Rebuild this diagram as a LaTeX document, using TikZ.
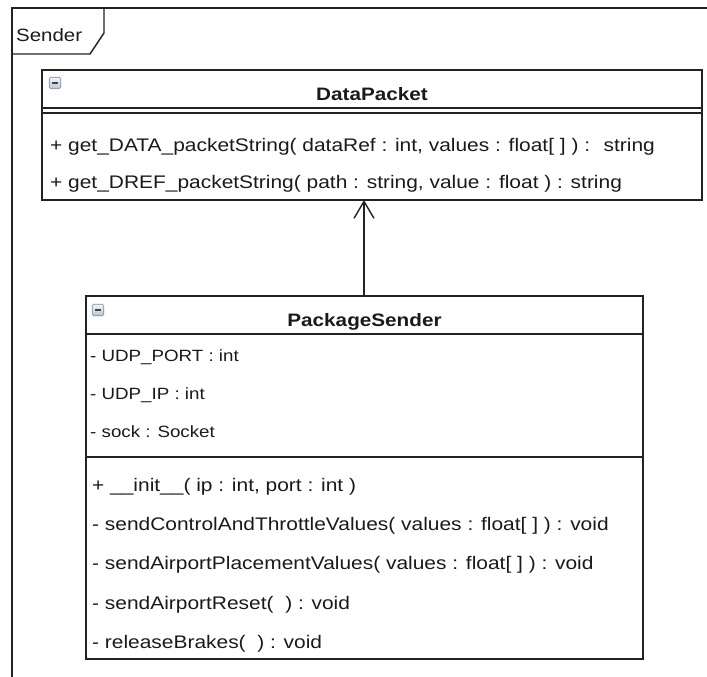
\documentclass[tikz,border=0pt]{standalone}
\usepackage{fontspec}
\setmainfont[FakeStretch=1.15]{Liberation Sans}
\usetikzlibrary{arrows.meta}
\definecolor{linec}{HTML}{222222}
\definecolor{textc}{HTML}{1A1A1A}
\definecolor{iconborder}{HTML}{7A8799}
\definecolor{icontop}{HTML}{F2F5F9}
\definecolor{iconbot}{HTML}{B9C6D6}
\tikzset{
  umlbox/.style={draw=linec, line width=1.4pt, fill=white, inner sep=0pt, outer sep=0pt, anchor=north west},
  sepline/.style={draw=linec, line width=1.4pt},
  hdr/.style={font=\fontsize{18}{20}\selectfont\bfseries, text=textc, inner sep=0pt, anchor=base},
  meth/.style={font=\fontsize{18.2}{20}\selectfont, text=textc, inner sep=0pt, anchor=base west},
  attr/.style={font=\fontsize{16.3}{18}\selectfont, text=textc, inner sep=0pt, anchor=base west},
  tabtext/.style={font=\fontsize{17.8}{20}\selectfont, text=textc, inner sep=0pt, anchor=base west},
  minusicon/.style={draw=iconborder, line width=0.7pt, rounded corners=1.5pt, top color=icontop, bottom color=iconbot,
    minimum size=11.5pt, inner sep=0pt, outer sep=0pt,
    path picture={\draw[line width=2pt, draw=linec!85] ([xshift=2.5pt]path picture bounding box.west) -- ([xshift=-2.5pt]path picture bounding box.east);}},
  generalization/.style={draw=linec, line width=1.4pt, -{Straight Barb[length=17pt,width=20pt,line width=1.4pt]}}
}
\begin{document}
\begin{tikzpicture}[x=1pt,y=-1pt]
\useasboundingbox (0,0) rectangle (707,677);
% frame
\coordinate (frbl) at (12,690);
\coordinate (frtl) at (12,8);
\coordinate (frtr) at (720,8);
\draw[linec, line width=1.4pt] (frbl) -- (frtl) -- (frtr);
\coordinate (tabA) at (12,54);
\coordinate (tabB) at (90,54);
\coordinate (tabC) at (104,33);
\coordinate (tabD) at (104,8);
\draw[linec, line width=1.4pt, line join=miter] (tabA) -- (tabB) -- (tabC) -- (tabD);
\node[tabtext] (sender) at (16,42) {Sender};

% DataPacket
\node[umlbox, minimum width=660pt, minimum height=130pt] (dp) at (42,70) {};
\coordinate (dpsep1) at (0,108);
\coordinate (dpsep2) at (0,113);
\draw[sepline] (dp.west |- dpsep1) -- (dp.east |- dpsep1);
\draw[sepline] (dp.west |- dpsep2) -- (dp.east |- dpsep2);
\node[minusicon] (dpicon) at (55,83) {};
\node[hdr] (dptitle) at (372,100) {DataPacket};
\node[meth] (dpm1) at (50,151) {+ get\_DATA\_packetString( dataRef : int, values : float[ ] ) : \ string};
\node[meth] (dpm2) at (50,188) {+ get\_DREF\_packetString( path : string, value : float ) : string};

% PackageSender
\node[umlbox, minimum width=557pt, minimum height=363pt] (ps) at (86,296) {};
\coordinate (pssep1) at (0,334);
\coordinate (pssep2) at (0,457);
\draw[sepline] (ps.west |- pssep1) -- (ps.east |- pssep1);
\draw[sepline] (ps.west |- pssep2) -- (ps.east |- pssep2);
\node[minusicon] (psicon) at (98,310) {};
\node[hdr] (pstitle) at (364.5,326) {PackageSender};
\node[attr] (psa1) at (90,361) {- UDP\_PORT : int};
\node[attr] (psa2) at (90,399) {- UDP\_IP : int};
\node[attr] (psa3) at (90,437) {- sock : Socket};
\node[meth] (psm1) at (92,491) {+ \_\_init\_\_( ip : int, port : int )};
\node[meth] (psm2) at (92,530) {- sendControlAndThrottleValues( values : float[ ] ) : void};
\node[meth] (psm3) at (92,569) {- sendAirportPlacementValues( values : float[ ] ) : void};
\node[meth] (psm4) at (92,609) {- sendAirportReset( \ ) : void};
\node[meth] (psm5) at (92,648) {- releaseBrakes( \ ) : void};

% generalization arrow
\coordinate (arrx) at (364,0);
\draw[generalization] (ps.north -| arrx) -- (dp.south -| arrx);
\end{tikzpicture}
\end{document}
